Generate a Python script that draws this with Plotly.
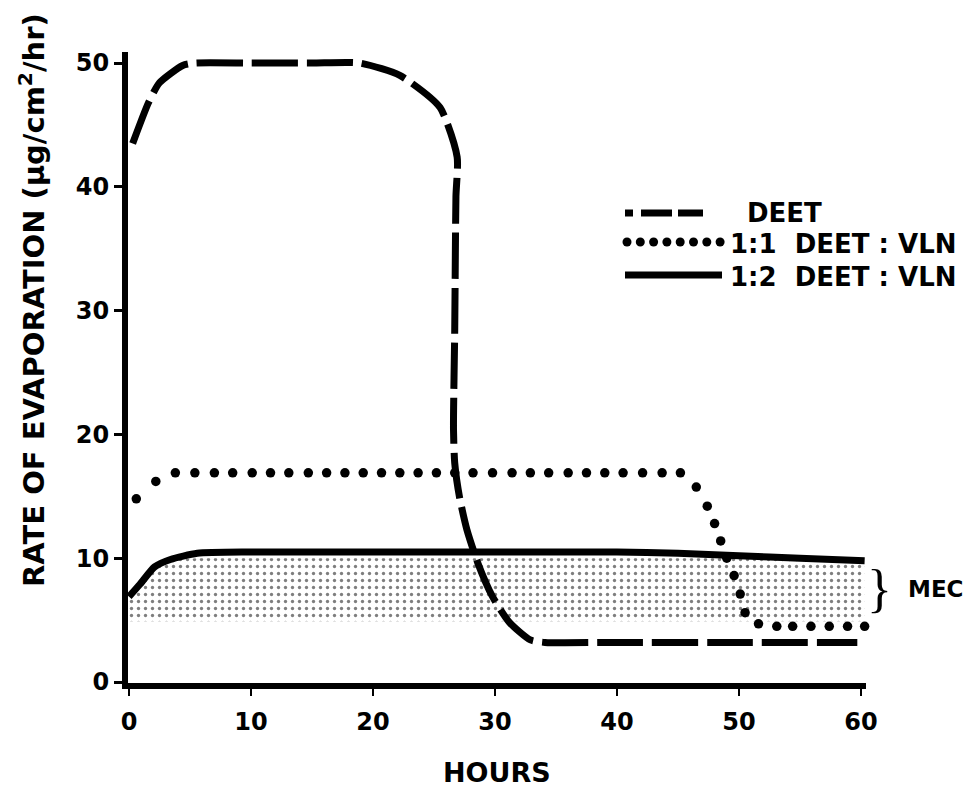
import numpy as np
import plotly.graph_objects as go

# ---------------- data ----------------
deet_hours = [0.3, 1.6, 2.5, 4.4, 5.4, 10, 15, 18.9, 22.2, 25.5, 26.9, 26.8, 26.7,
              26.6, 26.7, 27.1, 27.7, 28.6, 29.8, 31.2, 32.9, 34.1, 40, 50, 59.7]
deet_rate = [43.5, 46.8, 48.4, 49.8, 50.0, 50.0, 50.0, 50.0, 49.0, 46.4, 42.4, 39.2, 28.4,
             20.4, 17.7, 14.9, 12.3, 9.6, 6.9, 4.8, 3.4, 3.2, 3.2, 3.2, 3.2]

mix11_hours = [0.6, 2.2, 3.8, 5.4, 7.0, 8.5, 10.1, 11.6, 13.1, 14.7, 16.2, 17.7, 19.2,
               20.7, 22.2, 23.7, 25.2, 26.7, 28.2, 29.8, 31.4, 32.9, 34.4, 36.0, 37.5,
               39.0, 40.5, 42.1, 43.7, 45.2, 46.5, 47.4, 48.0, 48.5, 49.0, 49.6, 50.1,
               50.5, 51.6, 53.1, 54.4, 55.9, 57.4, 58.9, 60.3]
mix11_rate = [14.8, 16.2] + [16.9] * 28 + [15.75, 14.2, 12.8, 11.4, 10.0, 8.6, 7.1,
                                           5.6, 4.7, 4.5, 4.5, 4.5, 4.5, 4.5, 4.5, 4.5]

mix12_hours = [0, 0.9, 2.1, 3.4, 5.6, 10, 20, 30, 40, 45, 50, 55, 60.3]
mix12_rate = [6.9, 7.9, 9.3, 9.9, 10.4, 10.5, 10.5, 10.5, 10.5, 10.4, 10.2, 10.0, 9.8]

MEC_LOW, MEC_HIGH = 4.9, 10.0

x_ticks = [0, 10, 20, 30, 40, 50, 60]
x_tick_labels = ["0", "10", "20", "30", "40", "50", "60"]
y_ticks = [0, 10, 20, 30, 40, 50]
y_tick_labels = ["0", "10", "20", "30", "40", "50"]

legend_labels = ["DEET", "1:1  DEET : VLN", "1:2  DEET : VLN"]

# ---------------- layout geometry ----------------
W, H = 972, 787
ML, MR, MT, MB = 128, 106, 52, 104
PW, PH = W - ML - MR, H - MT - MB
X_RANGE = [-0.08, -0.08 + PW / 12.2]
Y_RANGE = [-0.08, -0.08 + PH / 12.38]


def px(xp):
    return (xp - ML) / PW


def py(yp):
    return (H - MB - yp) / PH


FONT = "DejaVu Sans"
BLACK = "black"

fig = go.Figure()

# MEC stippled band (bounded above by min(1:2 curve, MEC_HIGH))
upper = np.minimum(np.array(mix12_rate), MEC_HIGH)
band_x = list(mix12_hours) + list(mix12_hours[::-1])
band_y = list(upper) + [MEC_LOW] * len(mix12_hours)
fig.add_trace(go.Scatter(
    x=band_x, y=band_y, mode="lines", fill="toself",
    line=dict(width=0, color="rgba(0,0,0,0)"),
    fillcolor="rgba(0,0,0,0)",
    fillpattern=dict(shape=".", size=7, solidity=0.18, fgcolor=BLACK, bgcolor="white"),
    hoverinfo="skip", showlegend=False))

# DEET dashed
fig.add_trace(go.Scatter(
    x=deet_hours, y=deet_rate, mode="lines", name="DEET",
    line=dict(color=BLACK, width=7, dash="46px,9px", shape="spline", smoothing=0.6),
    showlegend=False))

# 1:2 solid
fig.add_trace(go.Scatter(
    x=mix12_hours, y=mix12_rate, mode="lines", name="1:2 DEET:VLN",
    line=dict(color=BLACK, width=7, shape="spline", smoothing=0.6),
    showlegend=False))

# 1:1 dotted (discrete dots)
fig.add_trace(go.Scatter(
    x=mix11_hours, y=mix11_rate, mode="markers", name="1:1 DEET:VLN",
    marker=dict(color=BLACK, size=9.5, line=dict(width=0)),
    cliponaxis=False, showlegend=False))

shapes = []
annotations = []

# ---- hand-drawn style key ----
for x0, x1 in [(625, 633), (641, 672), (678, 703)]:
    shapes.append(dict(type="line", xref="paper", yref="paper",
                       x0=px(x0), x1=px(x1), y0=py(213), y1=py(213),
                       line=dict(color=BLACK, width=7)))
for i in range(8):
    shapes.append(dict(type="circle", xref="paper", yref="paper",
                       xsizemode="pixel", ysizemode="pixel",
                       xanchor=px(627 + 13.3 * i), yanchor=py(242),
                       x0=-4.5, x1=4.5, y0=-4.5, y1=4.5,
                       fillcolor=BLACK, line=dict(width=0)))
shapes.append(dict(type="line", xref="paper", yref="paper",
                   x0=px(625), x1=px(722), y0=py(275), y1=py(275),
                   line=dict(color=BLACK, width=7)))

for label, xl, yl in zip(legend_labels, [745, 728, 728], [213, 244, 277]):
    annotations.append(dict(text=label, xref="paper", yref="paper",
                            x=px(xl), y=py(yl), xanchor="left", yanchor="middle",
                            showarrow=False,
                            font=dict(family=FONT, size=26, color=BLACK, weight="bold")))

# MEC brace + label
mec_mid = (MEC_LOW + MEC_HIGH) / 2 + 0.1
annotations.append(dict(text="}", xref="paper", yref="y", x=px(879),
                        y=mec_mid, xanchor="center", yanchor="middle",
                        showarrow=False,
                        font=dict(family="Liberation Serif", size=52, color=BLACK)))
annotations.append(dict(text="MEC", xref="paper", yref="y", x=px(906),
                        y=mec_mid, xanchor="left", yanchor="middle",
                        showarrow=False,
                        font=dict(family=FONT, size=23, color=BLACK, weight="bold")))

# axis titles
annotations.append(dict(text="RATE OF EVAPORATION (μg/cm<sup>2</sup>/hr)",
                        xref="paper", yref="paper", x=px(32), y=py(300),
                        xanchor="center", yanchor="middle", textangle=-90,
                        showarrow=False,
                        font=dict(family=FONT, size=29, color=BLACK, weight="bold")))
annotations.append(dict(text="HOURS", xref="paper", yref="paper",
                        x=px(497), y=py(772), xanchor="center", yanchor="middle",
                        showarrow=False,
                        font=dict(family=FONT, size=27, color=BLACK, weight="bold")))

fig.update_layout(
    width=W, height=H,
    margin=dict(l=ML, r=MR, t=MT, b=MB, pad=0),
    paper_bgcolor="white", plot_bgcolor="white",
    showlegend=False,
    shapes=shapes, annotations=annotations,
    xaxis=dict(range=X_RANGE, showgrid=False, zeroline=False,
               showline=True, linewidth=6, linecolor=BLACK,
               ticks="outside", ticklen=7, tickwidth=2, tickcolor=BLACK,
               tickvals=x_ticks, ticktext=x_tick_labels, ticklabelstandoff=5,
               tickfont=dict(family=FONT, size=24, color=BLACK, weight="bold")),
    yaxis=dict(range=Y_RANGE, showgrid=False, zeroline=False,
               showline=True, linewidth=6, linecolor=BLACK,
               ticks="outside", ticklen=8, tickwidth=3, tickcolor=BLACK,
               tickvals=y_ticks, ticktext=y_tick_labels,
               tickfont=dict(family=FONT, size=24, color=BLACK, weight="bold")),
)

fig.write_html("out.html", config={"displayModeBar": False},
               post_script="document.body.style.margin='0';document.body.style.overflow='hidden';")
